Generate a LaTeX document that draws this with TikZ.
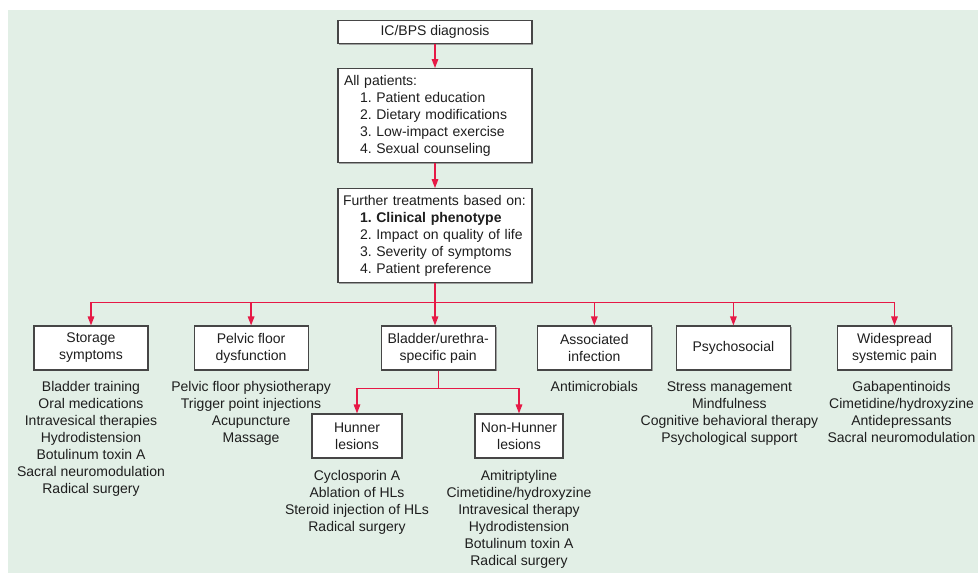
\documentclass[tikz,border=0pt]{standalone}
\usepackage{fontspec}
\setmainfont{Liberation Sans}
\usetikzlibrary{arrows.meta, positioning, shadows}
\definecolor{mint}{RGB}{226,239,230}
\definecolor{branch}{RGB}{230,25,70}
\definecolor{boxline}{RGB}{70,70,70}
\definecolor{ink}{RGB}{30,30,30}
\frenchspacing
\tikzset{
  block/.style={rectangle, draw=boxline, line width=1.1pt, fill=white, text=ink,
                minimum width=114pt, minimum height=44pt, align=center, inner sep=2pt,
                font=\fontsize{14}{17}\selectfont,
                drop shadow={shadow xshift=1.3pt, shadow yshift=-1.3pt, fill=black!45, opacity=0.8}},
  listing/.style={inner sep=0pt, align=center, text=ink, font=\fontsize{14}{17}\selectfont},
  arrow/.style={-{Triangle[length=9pt, width=6.5pt]}, line width=1.4pt, color=branch},
  branchline/.style={line width=1.4pt, color=branch},
}
\begin{document}
\begin{tikzpicture}[x=1pt, y=-1pt, node distance=24pt]
  \useasboundingbox (0,0) rectangle (978,573);
  \fill[mint] (8,10) rectangle (978,573);

  % main column
  \node[block, minimum width=194pt, minimum height=23pt] (diag) at (435,32) {IC/BPS diagnosis};
  \node[block, below=24pt of diag, text width=182pt, inner xsep=6pt,
        minimum height=94pt, align=left] (allpat)
       {All patients:\\
        \hspace*{16pt}1. Patient education\\
        \hspace*{16pt}2. Dietary modifications\\
        \hspace*{16pt}3. Low-impact exercise\\
        \hspace*{16pt}4. Sexual counseling};
  \node[block, below=25pt of allpat, text width=184pt, inner xsep=5pt,
        minimum height=94pt, align=left] (further)
       {Further treatments based on:\\
        \hspace*{17pt}\textbf{1. Clinical phenotype}\\
        \hspace*{17pt}2. Impact on quality of life\\
        \hspace*{17pt}3. Severity of symptoms\\
        \hspace*{17pt}4. Patient preference};

  % phenotypes
  \node[block] (storage) at (91,348) {Storage\\symptoms};
  \node[block, right=45pt of storage] (pelvic) {Pelvic floor\\dysfunction};
  \node[block, right=72pt of pelvic] (bladder) {Bladder/urethra-\\specific pain};
  \node[block, right=41pt of bladder] (assoc) {Associated\\infection};
  \node[block, right=24pt of assoc] (psycho) {Psychosocial};
  \node[block, right=46pt of psycho] (widesp) {Widespread\\systemic pain};

  \node[block, minimum width=90pt] (hunner) at (357,436) {Hunner\\lesions};
  \node[block, minimum width=88pt] (nonhun) at (519,436) {Non-Hunner\\lesions};

  % treatments
  \node[listing, below=11pt of storage] (storagetx)
       {Bladder training\\Oral medications\\Intravesical therapies\\Hydrodistension\\
        Botulinum toxin A\\Sacral neuromodulation\\Radical surgery};
  \node[listing, below=11pt of pelvic] (pelvictx)
       {Pelvic floor physiotherapy\\Trigger point injections\\Acupuncture\\Massage};
  \node[listing, below=11pt of assoc] (assoctx) {Antimicrobials};
  \node[listing, below=11pt of psycho, xshift=-4pt] (psychotx)
       {Stress management\\Mindfulness\\Cognitive behavioral therapy\\Psychological support};
  \node[listing, below=11pt of widesp, xshift=7pt] (wideptx)
       {Gabapentinoids\\Cimetidine/hydroxyzine\\Antidepressants\\Sacral neuromodulation};
  \node[listing, below=12pt of hunner] (hunnertx)
       {Cyclosporin A\\Ablation of HLs\\Steroid injection of HLs\\Radical surgery};
  \node[listing, below=12pt of nonhun] (nonhuntx)
       {Amitriptyline\\Cimetidine/hydroxyzine\\Intravesical therapy\\Hydrodistension\\
        Botulinum toxin A\\Radical surgery};

  % connectors
  \draw[arrow] (diag) -- (allpat);
  \draw[arrow] (allpat) -- (further);
  \coordinate[below=19pt of further] (split);
  \draw[arrow] (further) -- (further |- bladder.north);
  \foreach \cat in {storage, pelvic, assoc, psycho, widesp}
    \draw[arrow] (split) -| (\cat);

  \coordinate[below=18pt of bladder] (sub);
  \draw[branchline] (bladder) -- (sub);
  \draw[arrow] (sub) -| (hunner);
  \draw[arrow] (sub) -| (nonhun);
\end{tikzpicture}
\end{document}
